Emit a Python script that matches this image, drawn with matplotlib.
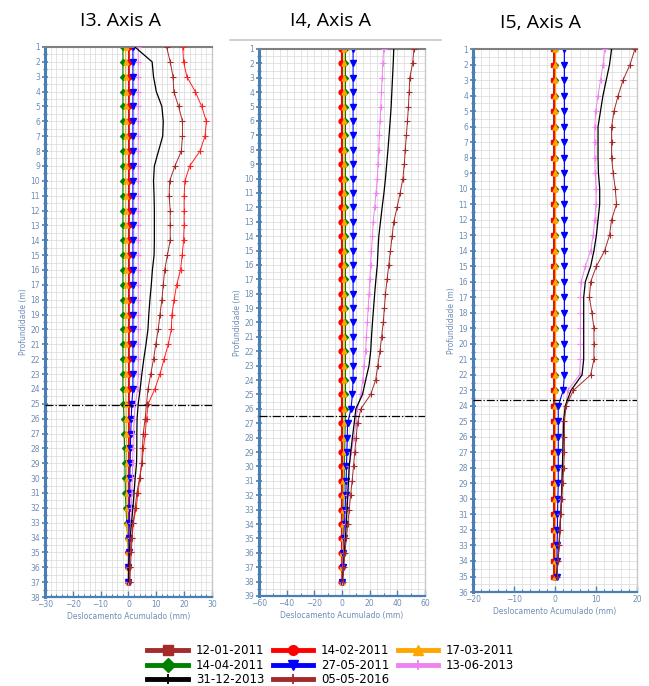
import numpy as np
import matplotlib
matplotlib.use("Agg")
import matplotlib.pyplot as plt
from matplotlib.lines import Line2D
from matplotlib.ticker import MultipleLocator

# legend dates (series names)
dates = ["12-01-2011", "14-02-2011", "17-03-2011", "14-04-2011",
         "27-05-2011", "13-06-2013", "31-12-2013", "05-05-2016"]

# ---------------- I3 (depth 1..37 m) ----------------
i3_depth = np.arange(1, 38)
i3_1201 = [0.0] * 37
i3_1402 = [0.3, 0.3, 0.3, 0.3, 0.3, 0.3, 0.3, 0.3, 0.3, 0.3, 0.3, 0.3, 0.3, 0.3, 0.3, 0.3, 0.3, 0.3, 0.3, 0.3,
           0.3, 0.3, 0.3, 0.3, 0.3, 0.3, 0.3, 0.3, 0.3, 0.2, 0.2, 0.2, 0.1, 0.1, 0.0, 0.0, 0.0]
i3_1703 = [-1.0, -1.0, -1.0, -1.0, -1.0, -1.0, -1.0, -1.0, -1.0, -1.0, -1.0, -1.0, -1.0, -1.0, -1.0, -1.0, -1.0,
           -1.0, -1.0, -1.0, -1.0, -1.0, -1.0, -1.0, -0.9, -0.8, -0.8, -0.7, -0.7, -0.6, -0.6, -0.5, -0.4, -0.2,
           0.0, 0.0, 0.0]
i3_1404 = [-2.0, -2.0, -2.0, -2.0, -2.0, -2.0, -2.0, -2.0, -2.0, -2.0, -2.0, -2.0, -2.0, -2.0, -2.0, -2.0, -2.0,
           -2.0, -2.0, -2.0, -2.0, -2.0, -2.0, -2.0, -1.8, -1.6, -1.5, -1.4, -1.3, -1.2, -1.1, -0.9, -0.6, -0.3,
           0.0, 0.0, 0.0]
i3_2705 = [1.6, 1.6, 1.6, 1.6, 1.6, 1.6, 1.6, 1.6, 1.6, 1.6, 1.6, 1.6, 1.6, 1.6, 1.6, 1.6, 1.6, 1.6, 1.6, 1.6,
           1.6, 1.6, 1.6, 1.6, 1.2, 1.0, 0.8, 0.7, 0.6, 0.5, 0.5, 0.4, 0.3, 0.2, 0.1, 0.0, 0.0]
i3_1306 = [3.5, 3.5, 3.5, 3.5, 3.5, 3.5, 3.5, 3.5, 3.5, 3.5, 3.5, 3.5, 3.5, 3.5, 3.5, 3.5, 3.5, 3.5, 3.5, 3.5,
           3.5, 3.5, 3.5, 3.3, 2.5, 2.0, 1.8, 1.6, 1.5, 1.4, 1.2, 1.0, 0.8, 0.5, 0.3, 0.2, 0.0]
i3_3112 = [2.3, 8.5, 9.0, 10.0, 12.0, 12.5, 12.3, 10.8, 9.3, 9.0, 9.2, 9.3, 9.3, 9.3, 9.2, 8.6, 8.2, 7.7, 7.3,
           7.0, 6.3, 5.5, 4.8, 4.2, 3.5, 3.1, 3.0, 3.0, 2.9, 2.4, 2.0, 1.6, 1.1, 0.6, 0.3, 0.1, 0.0]
i3_0505 = [13.7, 15.0, 16.0, 16.3, 18.0, 19.4, 19.4, 19.0, 16.7, 14.8, 14.6, 15.0, 15.0, 15.0, 14.0, 13.0, 12.5,
           12.0, 11.3, 10.7, 9.8, 9.0, 8.0, 7.0, 6.5, 6.0, 5.3, 5.0, 4.8, 4.0, 3.0, 2.4, 1.7, 1.3, 1.0, 0.7, 0.5]
i3_extra = [19.5, 19.8, 21.0, 24.0, 26.3, 28.0, 27.5, 25.7, 22.0, 20.3, 20.0, 20.0, 20.0, 19.8, 19.3, 18.7, 17.3,
            16.4, 15.6, 15.4, 14.3, 12.8, 11.3, 9.5, 7.1, 6.5, 6.0, 5.4, 4.8, 4.1, 3.4, 2.8, 1.7, 1.2, 0.6, 0.4, 0.4]

# ---------------- I4 (depth 1..38 m) ----------------
i4_depth = np.arange(1, 39)
i4_1201 = [0.0] * 38
i4_1402 = [-1.0] * 38
i4_1703 = [1.5, 1.5, 1.5, 1.5, 1.5, 1.5, 1.5, 1.5, 1.5, 1.5, 1.5, 1.5, 1.5, 1.5, 1.5, 1.5, 1.5, 1.5, 1.5,
           1.5, 1.5, 1.5, 1.5, 1.5, 1.5, 1.5, 1.4, 1.3, 1.2, 1.1, 1.0, 0.9, 0.8, 0.6, 0.5, 0.3, 0.2, 0.0]
i4_1404 = [2.5, 2.5, 2.5, 2.5, 2.5, 2.5, 2.5, 2.5, 2.5, 2.5, 2.5, 2.5, 2.5, 2.5, 2.5, 2.5, 2.5, 2.5, 2.5,
           2.5, 2.5, 2.5, 2.5, 2.5, 2.5, 2.5, 2.3, 2.1, 1.9, 1.7, 1.5, 1.3, 1.1, 0.9, 0.7, 0.5, 0.3, 0.1]
i4_2705 = [8.0, 8.0, 8.0, 8.0, 8.0, 8.0, 8.0, 8.0, 8.0, 8.0, 8.0, 8.0, 8.0, 8.0, 8.0, 8.0, 8.0, 8.0, 8.0,
           8.0, 8.0, 8.0, 8.0, 8.0, 7.5, 6.5, 4.0, 3.8, 3.5, 3.2, 3.0, 2.7, 2.2, 1.8, 1.4, 1.0, 0.6, 0.2]
i4_1306 = [30.0, 29.5, 29.0, 28.5, 28.0, 27.5, 27.0, 26.5, 26.0, 25.5, 24.5, 23.6, 22.5, 22.0, 21.3, 20.7,
           20.1, 19.5, 18.9, 18.3, 17.6, 17.0, 16.0, 15.0, 13.6, 11.0, 10.0, 8.5, 6.8, 5.2, 4.5, 3.7, 3.0,
           2.4, 1.8, 1.2, 0.6, 0.2]
i4_3112 = [37.4, 37.0, 36.5, 36.0, 35.5, 34.8, 34.0, 33.2, 32.3, 31.4, 30.3, 29.0, 27.8, 26.6, 26.0, 25.5,
           24.5, 23.6, 22.8, 22.0, 21.3, 20.7, 19.5, 17.1, 14.8, 10.0, 8.8, 7.5, 6.3, 5.2, 4.7, 4.2, 3.6,
           3.0, 2.5, 1.6, 1.0, 0.3]
i4_0505 = [52.0, 51.0, 49.0, 48.5, 48.0, 47.3, 46.5, 45.7, 45.0, 44.0, 42.0, 39.8, 37.4, 36.2, 35.0, 33.8,
           32.6, 31.4, 30.6, 29.8, 28.6, 27.4, 25.8, 24.3, 20.7, 13.6, 11.2, 10.2, 9.2, 8.3, 7.3, 6.2, 5.2,
           4.2, 3.1, 2.1, 1.2, 0.4]

# ---------------- I5 (depth 1..35 m) ----------------
i5_depth = np.arange(1, 36)
i5_1201 = [-0.4] * 35
i5_1402 = [-0.2] * 35
i5_1703 = [0.1] * 35
i5_1404 = [0.0] * 35
i5_2705 = [2.3, 2.3, 2.3, 2.3, 2.3, 2.3, 2.3, 2.3, 2.3, 2.3, 2.3, 2.3, 2.3, 2.3, 2.3, 2.3, 2.3, 2.3,
           2.3, 2.3, 2.3, 2.3, 2.0, 0.8, 0.8, 0.8, 0.8, 0.8, 0.8, 0.7, 0.6, 0.6, 0.5, 0.5, 0.5]
i5_1306 = [12.1, 11.7, 11.1, 10.5, 9.9, 9.7, 9.7, 9.7, 9.8, 10.0, 10.0, 9.7, 9.3, 8.7, 7.4, 6.4, 6.2, 6.2,
           6.2, 6.2, 6.2, 6.0, 3.1, 2.7, 1.9, 1.9, 1.9, 1.8, 1.6, 1.5, 1.3, 1.1, 1.0, 0.7, 0.5]
i5_3112 = [13.8, 13.3, 12.5, 11.7, 11.1, 10.5, 10.5, 10.5, 10.6, 10.9, 10.9, 10.5, 10.1, 9.5, 8.7, 7.4, 7.0,
           7.0, 7.0, 7.0, 7.0, 6.6, 3.9, 2.5, 2.1, 2.0, 1.9, 1.8, 1.7, 1.6, 1.4, 1.2, 1.0, 0.7, 0.4]
i5_0505 = [19.5, 18.3, 16.6, 15.4, 14.4, 13.8, 13.8, 13.8, 14.2, 14.7, 15.0, 13.8, 13.3, 12.1, 10.1, 8.7,
           8.4, 9.0, 9.5, 9.5, 9.5, 8.7, 4.5, 2.7, 2.3, 2.3, 2.3, 2.1, 1.9, 1.6, 1.4, 1.2, 1.0, 0.7, 0.5]

# series styles: color, marker, markersize, zorder
styles = [("#a52a2a", "s", 3.5, 1.6), ("#ff0000", "o", 3.5, 2), ("#ffa500", "^", 3.5, 2.1),
          ("#008000", "D", 3, 1.5), ("#0000ff", "v", 4, 2.2), ("#ee82ee", "+", 4, 3),
          ("#000000", "", 0, 3.1), ("#a52a2a", "+", 5, 3.2)]

tick_col = "#6d8db5"
spine_col = "#4a7fb5"


def setup(ax, xlim, ylim_bottom, xmaj, xmin, gridx):
    ax.set_xlim(*xlim)
    ax.set_ylim(ylim_bottom, 1)
    ax.xaxis.set_major_locator(MultipleLocator(xmaj))
    ax.xaxis.set_minor_locator(MultipleLocator(xmin))
    ax.yaxis.set_major_locator(MultipleLocator(1))
    ax.yaxis.set_minor_locator(MultipleLocator(0.5))
    for gx in np.arange(xlim[0], xlim[1] + 0.01, gridx):
        ax.axvline(gx, color="#d9d9d9", lw=0.5, zorder=0)
    for gy in np.arange(1, ylim_bottom + 0.01, 0.5):
        ax.axhline(gy, color="#d9d9d9", lw=0.5, zorder=0)
    ax.tick_params(axis="both", which="both", colors=spine_col, labelcolor=tick_col, labelsize=5.5)
    ax.tick_params(axis="y", which="major", direction="inout", length=5, width=1.2, pad=1)
    ax.tick_params(axis="y", which="minor", direction="inout", length=3, width=1)
    ax.tick_params(axis="x", which="major", direction="in", length=4, width=1, pad=2.5)
    ax.tick_params(axis="x", which="minor", direction="in", length=2.5, width=0.8)
    ax.spines["left"].set_color(spine_col)
    ax.spines["left"].set_linewidth(2.2)
    ax.spines["bottom"].set_color(spine_col)
    ax.spines["bottom"].set_linewidth(1.6)
    ax.spines["top"].set_color("#7f7f7f")
    ax.spines["top"].set_linewidth(1.5)
    ax.spines["right"].set_color("#c8c8c8")
    ax.spines["right"].set_linewidth(1)
    ax.set_ylabel("Profundidade (m)", color=tick_col, fontsize=5.5, labelpad=2)
    ax.set_xlabel("Deslocamento Acumulado (mm)", color=tick_col, fontsize=5.5, labelpad=2)


def draw(ax, depth, series):
    for vals, (c, m, ms, z) in zip(series, styles):
        if m == "":
            ax.plot(vals, depth, color=c, lw=0.9, zorder=z)
        elif m == "+":
            ax.plot(vals, depth, color=c, lw=0.7, marker=m, ms=ms, mew=0.8, zorder=z)
        else:
            ax.plot(vals, depth, color=c, lw=0.8, marker=m, ms=ms, mec=c, zorder=z)


fig = plt.figure(figsize=(6.49, 6.86), dpi=100)

ax3 = fig.add_axes([0.0693, 0.1297, 0.2573, 0.8018])
setup(ax3, (-30, 30), 38, 10, 2, 2)
draw(ax3, i3_depth, [i3_1201, i3_1402, i3_1703, i3_1404, i3_2705, i3_1306, i3_3112, i3_0505])
ax3.plot(i3_extra, i3_depth, color="#ff2020", lw=0.7, marker="+", ms=5, mew=0.8, zorder=3)
ax3.axhline(25.1, color="black", lw=0.9, ls="-.", zorder=4)

ax4 = fig.add_axes([0.3991, 0.1312, 0.2558, 0.7974])
setup(ax4, (-60, 60), 39, 20, 10, 5)
draw(ax4, i4_depth, [i4_1201, i4_1402, i4_1703, i4_1404, i4_2705, i4_1306, i4_3112, i4_0505])
ax4.axhline(26.5, color="black", lw=0.9, ls="-.", zorder=4)

ax5 = fig.add_axes([0.7288, 0.1370, 0.2527, 0.7915])
setup(ax5, (-20, 20), 36, 10, 2, 2)
draw(ax5, i5_depth, [i5_1201, i5_1402, i5_1703, i5_1404, i5_2705, i5_1306, i5_3112, i5_0505])
ax5.axhline(23.6, color="black", lw=0.9, ls="-.", zorder=4)

# thin gray strip above I4 (image crop edge)
fig.add_artist(Line2D([0.355, 0.68], [1 - 40 / 686, 1 - 40 / 686], color="#c8c8c8", lw=1.2))

fig.text(0.185, 1 - 21 / 686, "I3. Axis A", ha="center", va="center", fontsize=14, family="Open Sans")
fig.text(0.51, 1 - 21 / 686, "I4, Axis A", ha="center", va="center", fontsize=14, family="Open Sans")
fig.text(0.833, 1 - 23 / 686, "I5, Axis A", ha="center", va="center", fontsize=14, family="Open Sans")

handles = []
for (c, m, ms, z), d in zip(styles, dates):
    mk = m if m else "+"
    handles.append(Line2D([], [], color=c, lw=3.5, marker=mk, ms=7, mew=1.3 if mk == "+" else 1,
                          mec=c, label=d))
# matplotlib fills legend columns first; reorder so the rows read across
order = [0, 3, 6, 1, 4, 7, 2, 5]
fig.legend(handles=[handles[i] for i in order], loc="upper center", bbox_to_anchor=(0.51, 1 - 638 / 686),
           ncol=3, frameon=False, fontsize=8.5, handlelength=3.4, columnspacing=0.7, handletextpad=0.7,
           labelspacing=0.15, borderpad=0)

fig.savefig("out.png", dpi=100)
